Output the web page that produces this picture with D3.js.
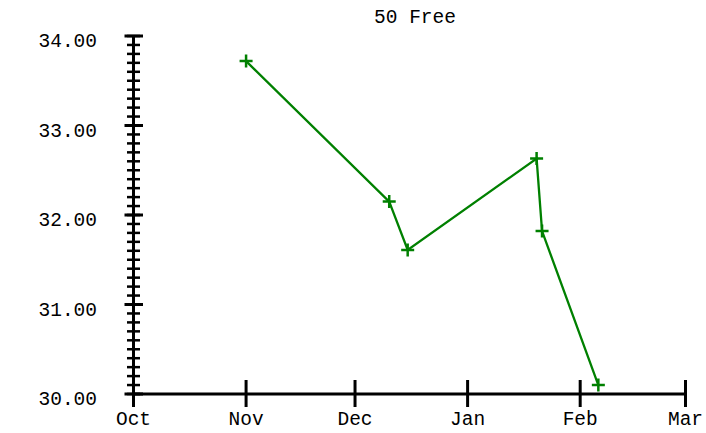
<!DOCTYPE html>
<html>
<head>
<meta charset="utf-8">
<script src="https://cdn.jsdelivr.net/npm/d3@7"></script>
<style>
  html, body { margin: 0; padding: 0; background: #fff; }
  svg { display: block; }
  text { font-family: "Liberation Mono", "Courier New", monospace; fill: #000; }
</style>
</head>
<body>
<svg id="chart" width="706" height="433"></svg>
<script>
const title = "50 Free";
const dates = ["2007-11-01T00:00", "2007-12-10T10:00", "2007-12-15T12:00", "2008-01-20T00:00", "2008-01-21T12:00", "2008-02-06T00:00"];
const times = [33.72, 32.15, 31.61, 32.63, 31.82, 30.10];
const xDomain = ["2007-10-01T00:00", "2008-03-01T00:00"];
const yDomain = [30, 34];
const yTickLabels = ["30.00", "31.00", "32.00", "33.00", "34.00"];

const parse = d3.isoParse;
const data = dates.map((d, i) => ({ date: parse(d), value: times[i] }));

const svg = d3.select("#chart");
const x = d3.scaleTime().domain(xDomain.map(parse)).range([133.5, 685.5]);
const y = d3.scaleLinear().domain(yDomain).range([394, 36]);

const axisColor = "#000";
const green = "#008000";
const fs = "19.5px";

// title
svg.append("text")
  .attr("x", 415).attr("y", 23)
  .attr("text-anchor", "middle")
  .style("font-size", fs)
  .text(title);

// y axis line
svg.append("line")
  .attr("x1", x.range()[0]).attr("x2", x.range()[0])
  .attr("y1", y(yDomain[0])).attr("y2", y(yDomain[1]))
  .attr("stroke", axisColor).attr("stroke-width", 3);

// y minor ticks
const minor = d3.range(0, 41).map(i => yDomain[0] + i * 0.1);
svg.append("g").selectAll("line").data(minor).join("line")
  .attr("x1", x.range()[0] - 6.5).attr("x2", x.range()[0] + 6.5)
  .attr("y1", d => y(d)).attr("y2", d => y(d))
  .attr("stroke", axisColor).attr("stroke-width", 2.5);

// y major ticks
const major = y.ticks(4);
svg.append("g").selectAll("line").data(major).join("line")
  .attr("x1", x.range()[0] - 9).attr("x2", x.range()[0] + 9.5)
  .attr("y1", d => y(d)).attr("y2", d => y(d))
  .attr("stroke", axisColor).attr("stroke-width", 3);

svg.append("g").selectAll("text").data(major).join("text")
  .attr("x", 97).attr("y", d => y(d) + 11)
  .attr("text-anchor", "end")
  .style("font-size", fs)
  .text((d, i) => yTickLabels[i]);

// x axis line
svg.append("line")
  .attr("x1", x.range()[0]).attr("x2", x.range()[1])
  .attr("y1", y(yDomain[0])).attr("y2", y(yDomain[0]))
  .attr("stroke", axisColor).attr("stroke-width", 3);

const months = d3.timeMonth.range(x.domain()[0], d3.timeDay.offset(x.domain()[1], 1));
svg.append("g").selectAll("line").data(months).join("line")
  .attr("x1", d => x(d)).attr("x2", d => x(d))
  .attr("y1", y(yDomain[0]) - 14).attr("y2", y(yDomain[0]) + 13)
  .attr("stroke", axisColor).attr("stroke-width", 3);

svg.append("g").selectAll("text").data(months).join("text")
  .attr("x", d => x(d)).attr("y", 425)
  .attr("text-anchor", "middle")
  .style("font-size", fs)
  .text(d => d3.timeFormat("%b")(d));

// line
const line = d3.line().x(d => x(d.date)).y(d => y(d.value));
svg.append("path").datum(data)
  .attr("d", line)
  .attr("fill", "none")
  .attr("stroke", green)
  .attr("stroke-width", 2.3);

// plus markers
const s = 6.5;
svg.append("g").selectAll("path").data(data).join("path")
  .attr("d", d => {
    const cx = x(d.date), cy = y(d.value);
    return `M${cx - s},${cy}H${cx + s}M${cx},${cy - s}V${cy + s}`;
  })
  .attr("stroke", green)
  .attr("stroke-width", 2.5)
  .attr("fill", "none");
</script>
</body>
</html>
